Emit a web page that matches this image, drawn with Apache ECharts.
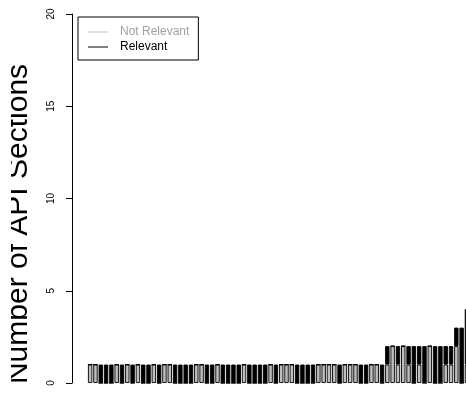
<!DOCTYPE html>
<html>
<head>
<meta charset="utf-8">
<script src="https://cdn.jsdelivr.net/npm/echarts@6/dist/echarts.min.js"></script>
<style>
  html, body { margin: 0; padding: 0; background: #fff; overflow: hidden; }
  #chart { position: absolute; left: 11px; top: 0; width: 455px; height: 394px; }
</style>
</head>
<body>
<div id="chart"></div>
<script>
// Per-API counts of sections, split into not relevant (bottom) and relevant (top)
const apis = Array.from({ length: 72 }, (_, i) => String(i + 1));
const notRelevant = [
  1,1,0,0,0,1,0,1,0,1,
  0,0,1,0,1,1,0,0,0,0,
  1,1,0,0,1,0,0,0,0,1,
  0,0,0,0,1,0,1,1,1,0,
  0,0,0,1,1,1,1,0,1,1,
  1,0,0,1,1,0,
  1,2,1,2,1,0,1,0,2,0,0,1,1,
  2,0,1
];
const relevant = [
  0,0,1,1,1,0,1,0,1,0,
  1,1,0,1,0,0,1,1,1,1,
  0,0,1,1,0,1,1,1,1,0,
  1,1,1,1,0,1,0,0,0,1,
  1,1,1,0,0,0,0,1,0,0,
  0,1,1,0,0,1,
  1,0,1,0,1,2,1,2,0,2,2,1,1,
  1,3,3
];
const yTicks = [0, 5, 10, 15, 20];
const seriesNames = ['Not Relevant', 'Relevant'];

const GRAY = '#BEBEBE';
const FONT = '"Liberation Sans", Arial, Helvetica, sans-serif';

const chart = echarts.init(document.getElementById('chart'), null, { renderer: 'canvas' });

chart.setOption({
  animation: false,
  textStyle: { fontFamily: FONT },
  grid: {
    left: 76.5, right: -3.6, top: 14, bottom: 11,
    containLabel: false,
    outerBoundsMode: 'none'
  },
  legend: {
    orient: 'vertical',
    left: 67,
    top: 17,
    padding: [9, 9, 7, 10],
    itemGap: 3,
    itemWidth: 20,
    itemHeight: 1,
    icon: 'rect',
    borderColor: '#000',
    borderWidth: 1,
    itemStyle: { borderWidth: 0 },
    textStyle: { fontSize: 12, fontFamily: FONT, padding: [0, 0, 0, 7] },
    data: [
      { name: seriesNames[0], textStyle: { color: '#A0A0A0' } },
      { name: seriesNames[1], textStyle: { color: '#000' } }
    ]
  },
  xAxis: {
    type: 'category',
    data: apis,
    boundaryGap: true,
    show: false
  },
  yAxis: {
    type: 'value',
    min: yTicks[0],
    max: yTicks[yTicks.length - 1],
    interval: yTicks[1] - yTicks[0],
    offset: 15.5,
    name: 'Number of API Sections',
    nameLocation: 'middle',
    nameRotate: 90,
    nameGap: 38,
    nameTextStyle: { fontSize: 30, color: '#000', fontFamily: FONT, padding: [0, 51, 0, 0] },
    axisLine: { show: true, onZero: false, lineStyle: { color: '#000', width: 1 } },
    axisTick: { show: true, length: 6, lineStyle: { color: '#000' } },
    axisLabel: { rotate: 90, fontSize: 10, color: '#000', margin: 16, fontFamily: FONT },
    splitLine: { show: false }
  },
  series: [
    {
      name: seriesNames[0],
      type: 'bar',
      stack: 'total',
      barWidth: '83%',
      itemStyle: { color: GRAY, borderColor: '#000', borderWidth: 0.9 },
      data: notRelevant
    },
    {
      name: seriesNames[1],
      type: 'bar',
      stack: 'total',
      barWidth: '83%',
      itemStyle: { color: '#000', borderColor: '#000', borderWidth: 0.9 },
      data: relevant
    }
  ]
});
</script>
</body>
</html>
